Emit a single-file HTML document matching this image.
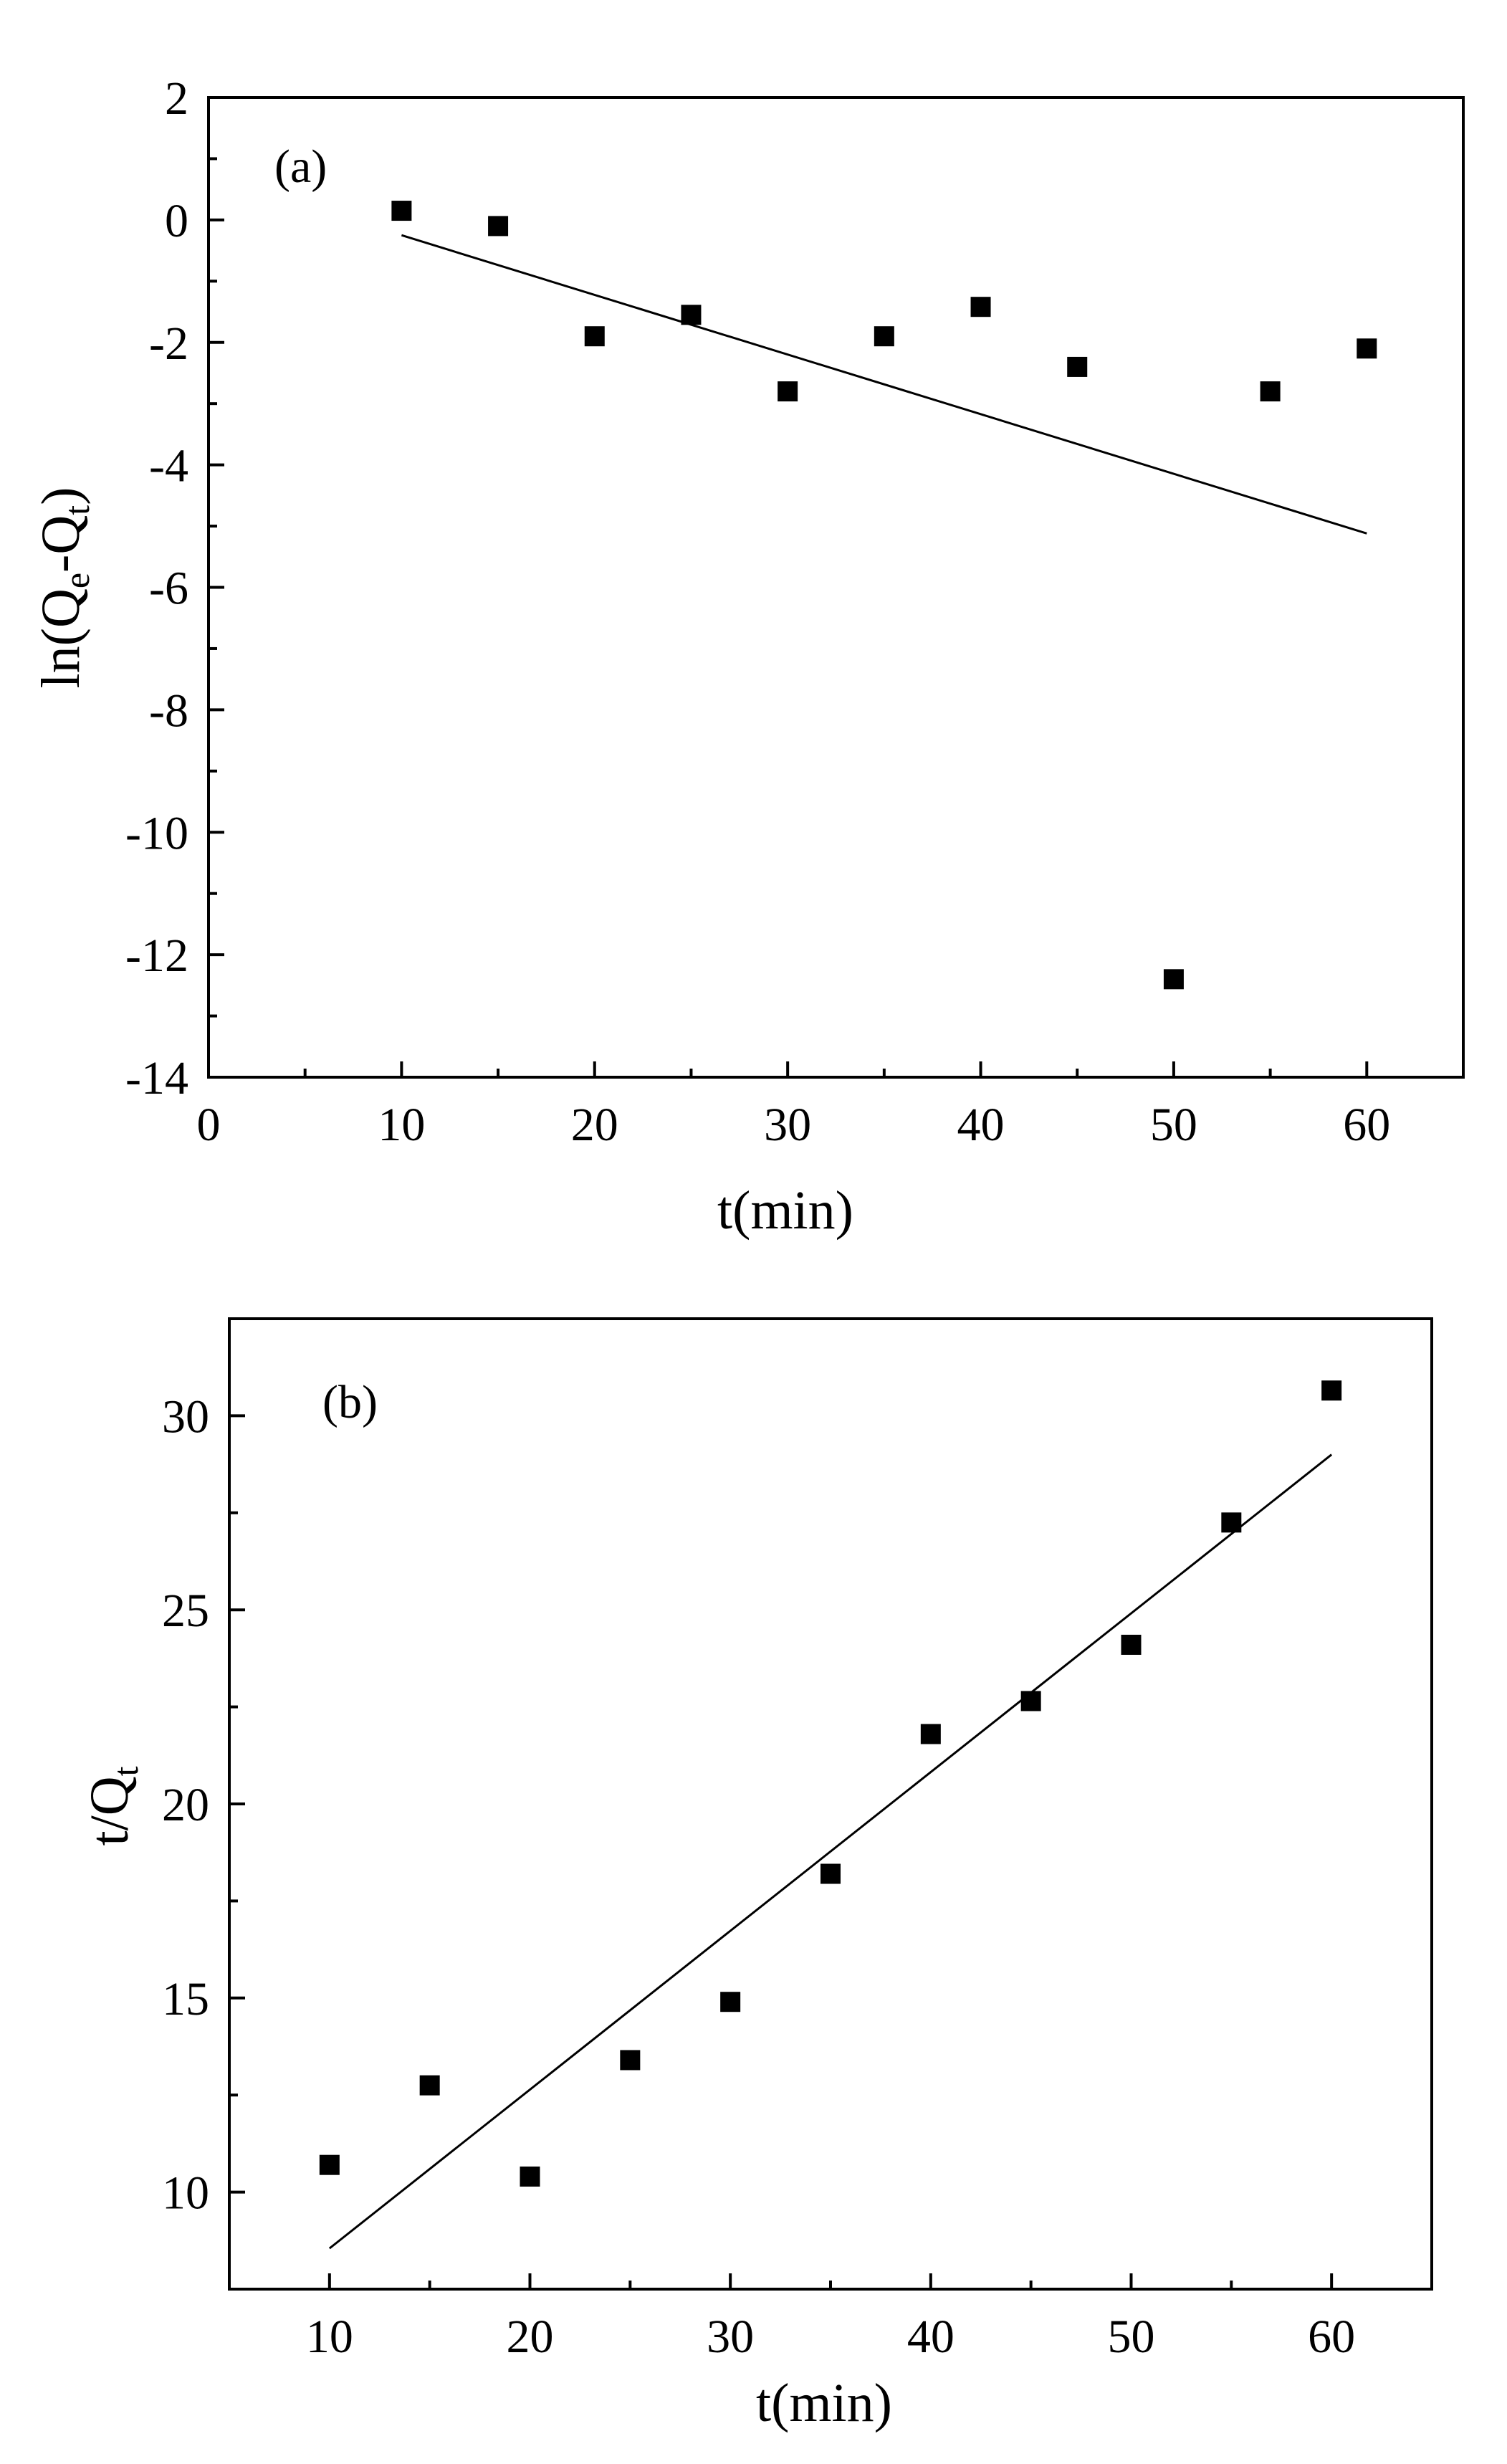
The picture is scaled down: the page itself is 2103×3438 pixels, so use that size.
<!DOCTYPE html>
<html><head><meta charset="utf-8"><style>
html,body{margin:0;padding:0;background:#fff}
svg{display:block}
text{font-family:"Liberation Serif",serif;fill:#000}
</style></head><body>
<svg id="fig" width="2103" height="3438" viewBox="0 0 2103 3438" xmlns="http://www.w3.org/2000/svg">
<rect width="2103" height="3438" fill="#fff"/>
</svg>
<script>
const aX=[10,15,20,25,30,35,40,45,50,55,60];
const aY=[0.15,-0.1,-1.9,-1.55,-2.8,-1.9,-1.42,-2.4,-12.4,-2.8,-2.1];
const aFit=[[10,-0.25],[60,-5.12]];
const aXTicks=[0,10,20,30,40,50,60];
const aYTicks=[2,0,-2,-4,-6,-8,-10,-12,-14];
const bX=[10,15,20,25,30,35,40,45,50,55,60];
const bY=[10.7,12.75,10.4,13.4,14.9,18.2,21.8,22.65,24.1,27.25,30.65];
const bFit=[[10,8.55],[60,29.0]];
const bXTicks=[10,20,30,40,50,60];
const bYTicks=[10,15,20,25,30];

const NS='http://www.w3.org/2000/svg';
const svg=document.getElementById('fig');
function el(tag,attrs,parent){const e=document.createElementNS(NS,tag);for(const k in attrs)e.setAttribute(k,attrs[k]);(parent||svg).appendChild(e);return e;}

function panel(o){
  const g=el('g',{});
  
  
  const sx=v=>o.L+(v-o.x0)/(o.x1-o.x0)*(o.R-o.L);
  const sy=v=>o.B-(v-o.y0)/(o.y1-o.y0)*(o.B-o.T);
  const tk=el('g',{stroke:'#000','stroke-width':4},g);
  
  
  for(let v=o.x0;v<=o.x1+1e-9;v+=o.xMinor){
    const major=o.xTicks.some(t=>Math.abs(t-v)<1e-9);
    const len=major?22:12;
    el('line',{x1:sx(v),x2:sx(v),y1:o.B,y2:o.B-len},tk);
  }
  for(let v=o.y0;v<=o.y1+1e-9;v+=o.yMinor){
    const major=o.yTicks.some(t=>Math.abs(t-v)<1e-9);
    const len=major?22:12;
    el('line',{x1:o.L,x2:o.L+len,y1:sy(v),y2:sy(v)},tk);
  }
  o.xTicks.forEach(v=>{const t=el('text',{x:sx(v),y:o.B+88,'font-size':66,'text-anchor':'middle'},g);t.textContent=v;
    });
  o.yTicks.forEach(v=>{const t=el('text',{x:o.L-28,y:sy(v)+23,'font-size':66,'text-anchor':'end'},g);t.textContent=v;
    });
  const f=el('line',{x1:sx(o.fit[0][0]),y1:sy(o.fit[0][1]),x2:sx(o.fit[1][0]),y2:sy(o.fit[1][1]),stroke:'#000','stroke-width':3},g);
  
  
  o.xs.forEach((x,i)=>{const r=el('rect',{x:sx(x)-14,y:sy(o.ys[i])-14,width:28,height:28,fill:'#000'},g);
    
    });
  const fr=el('rect',{x:o.L,y:o.T,width:o.R-o.L,height:o.B-o.T,fill:'none',stroke:'#000','stroke-width':4},g);
  
  
  return g;
}

panel({name:'panel-a',L:291,R:2042,T:136,B:1503,x0:0,x1:65,y0:-14,y1:2,xMinor:5,xMajor:10,yMinor:1,
  xTicks:aXTicks,yTicks:aYTicks,xs:aX,ys:aY,fit:aFit});
panel({name:'panel-b',L:320,R:1998,T:1840,B:3194,x0:5,x1:65,y0:7.5,y1:32.5,xMinor:5,xMajor:10,yMinor:2.5,
  xTicks:bXTicks,yTicks:bYTicks,xs:bX,ys:bY,fit:bFit});
</script>
<svg style="position:absolute;left:0;top:0" width="2103" height="3438">
<text x="383" y="254" font-size="66">(a)</text>
<text x="1096" y="1714" font-size="76" text-anchor="middle">t(min)</text>
<text transform="translate(110,820) rotate(-90)" font-size="76" text-anchor="middle">ln(Q<tspan font-size="50" dy="14">e</tspan><tspan dy="-14">-Q</tspan><tspan font-size="50" dy="14">t</tspan><tspan dy="-14">)</tspan></text>
<text x="450" y="1978" font-size="66">(b)</text>
<text x="1150" y="3378" font-size="76" text-anchor="middle">t(min)</text>
<text transform="translate(178,2520) rotate(-90)" font-size="76" text-anchor="middle">t/Q<tspan font-size="50" dy="14">t</tspan></text>
</svg>
</body></html>
